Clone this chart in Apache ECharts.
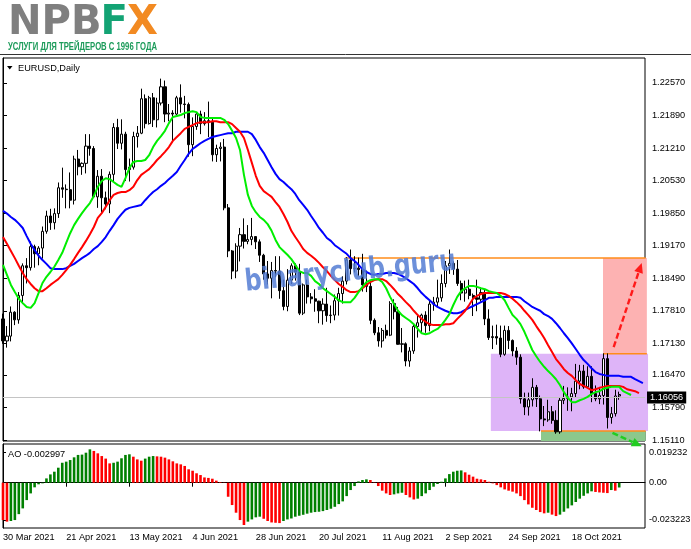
<!DOCTYPE html>
<html>
<head>
<meta charset="utf-8">
<title>EURUSD Daily</title>
<script src="https://cdn.jsdelivr.net/npm/echarts@6.0.0/dist/echarts.min.js"></script>
<style>
html,body{margin:0;padding:0;background:#ffffff;}
#chart{width:691px;height:549px;}
</style>
</head>
<body>
<div id="chart"></div>
<script>
// ---------------- data ----------------
const symbolTitle = 'EURUSD,Daily';
const aoTitle = 'AO -0.002997';
const brandParts = ['NPB', 'F', 'X'];
const brandSlogan = 'УСЛУГИ ДЛЯ ТРЕЙДЕРОВ С 1996 ГОДА';
const watermarkText = 'binaryclub.guru';
const firstTradingDay = [2021, 2, 30];
const monthNames = ['Jan','Feb','Mar','Apr','May','Jun','Jul','Aug','Sep','Oct','Nov','Dec'];
const dateTickLabels = ['30 Mar 2021','21 Apr 2021','13 May 2021','4 Jun 2021','28 Jun 2021','20 Jul 2021','11 Aug 2021','2 Sep 2021','24 Sep 2021','18 Oct 2021'];
const priceTickLabels = ['1.22570','1.21890','1.21210','1.20530','1.19850','1.19170','1.18490','1.17810','1.17130','1.16470','1.15790','1.15110'];
const aoTickLabels = ['0.019232','0.00','-0.023223'];
const currentPrice = 1.16056;

// [open, close, low, high]
const candles = [
[1.1764,1.1718,1.1712,1.1775],[1.1718,1.1728,1.1704,1.1749],[1.1728,1.1778,1.1717,1.1790],[1.1778,1.1762,1.1751,1.1780],
[1.1762,1.1813,1.1754,1.1820],[1.1813,1.1875,1.1795,1.1880],[1.1875,1.1871,1.1838,1.1891],[1.1871,1.1915,1.1865,1.1926],
[1.1915,1.1900,1.1871,1.1919],[1.1900,1.1912,1.1876,1.1916],[1.1912,1.1947,1.1890,1.1957],[1.1947,1.1979,1.1942,1.1990],
[1.1979,1.1965,1.1950,1.1994],[1.1965,1.1984,1.1951,1.1995],[1.1984,1.2038,1.1975,1.2049],[1.2038,1.2035,1.2017,1.2080],
[1.2035,1.2034,1.1995,1.2045],[1.2034,1.2012,1.1995,1.2070],[1.2012,1.2098,1.2003,1.2105],[1.2098,1.2082,1.2064,1.2117],
[1.2082,1.2089,1.2065,1.2091],[1.2089,1.2125,1.2068,1.2150],[1.2125,1.2120,1.2105,1.2150],[1.2120,1.2019,1.2017,1.2125],
[1.2019,1.2062,1.1996,1.2075],[1.2062,1.2017,1.1986,1.2077],[1.2017,1.2004,1.1993,1.2030],[1.2004,1.2066,1.1985,1.2072],
[1.2066,1.2164,1.2052,1.2173],[1.2164,1.2131,1.2119,1.2182],[1.2131,1.2150,1.2118,1.2181],[1.2150,1.2076,1.2052,1.2155],
[1.2076,1.2081,1.2051,1.2099],[1.2081,1.2145,1.2076,1.2155],[1.2145,1.2152,1.2122,1.2167],[1.2152,1.2224,1.2150,1.2245],
[1.2224,1.2172,1.2162,1.2233],[1.2172,1.2226,1.2170,1.2230],[1.2226,1.2180,1.2165,1.2236],[1.2180,1.2215,1.2164,1.2226],
[1.2215,1.2249,1.2210,1.2266],[1.2249,1.2192,1.2175,1.2262],[1.2192,1.2194,1.2177,1.2213],[1.2194,1.2192,1.2133,1.2200],
[1.2192,1.2226,1.2190,1.2230],[1.2226,1.2213,1.2195,1.2254],[1.2213,1.2212,1.2183,1.2230],[1.2212,1.2128,1.2103,1.2216],
[1.2128,1.2166,1.2104,1.2185],[1.2166,1.2192,1.2159,1.2196],[1.2192,1.2172,1.2150,1.2199],[1.2172,1.2178,1.2168,1.2196],
[1.2178,1.2175,1.2144,1.2218],[1.2175,1.2107,1.2093,1.2182],[1.2107,1.2120,1.2092,1.2128],[1.2120,1.2123,1.2093,1.2133],
[1.2123,1.1996,1.1991,1.2140],[1.1996,1.1906,1.1893,1.2004],[1.1906,1.1864,1.1847,1.1908],[1.1864,1.1916,1.1849,1.1922],
[1.1916,1.1940,1.1884,1.1954],[1.1940,1.1926,1.1911,1.1974],[1.1926,1.1930,1.1920,1.1960],[1.1930,1.1936,1.1918,1.1975],
[1.1936,1.1925,1.1910,1.1937],[1.1925,1.1897,1.1883,1.1930],[1.1897,1.1858,1.1846,1.1900],[1.1858,1.1849,1.1836,1.1885],
[1.1849,1.1865,1.1807,1.1883],[1.1865,1.1864,1.1851,1.1895],[1.1864,1.1823,1.1806,1.1895],[1.1823,1.1790,1.1782,1.1846],
[1.1790,1.1845,1.1780,1.1868],[1.1845,1.1875,1.1837,1.1880],[1.1875,1.1862,1.1844,1.1880],[1.1862,1.1776,1.1772,1.1879],
[1.1776,1.1835,1.1772,1.1838],[1.1835,1.1810,1.1796,1.1846],[1.1810,1.1806,1.1796,1.1818],[1.1806,1.1801,1.1779,1.1826],
[1.1801,1.1781,1.1755,1.1802],[1.1781,1.1795,1.1752,1.1807],[1.1795,1.1771,1.1758,1.1829],[1.1771,1.1772,1.1755,1.1792],
[1.1772,1.1802,1.1761,1.1815],[1.1802,1.1817,1.1771,1.1829],[1.1817,1.1843,1.1796,1.1853],[1.1843,1.1887,1.1836,1.1893],
[1.1887,1.1869,1.1857,1.1909],[1.1869,1.1870,1.1861,1.1895],[1.1870,1.1867,1.1853,1.1892],[1.1867,1.1835,1.1821,1.1900],
[1.1835,1.1832,1.1820,1.1865],[1.1832,1.1761,1.1753,1.1843],[1.1761,1.1735,1.1730,1.1765],[1.1735,1.1718,1.1706,1.1747],
[1.1718,1.1740,1.1704,1.1745],[1.1740,1.1730,1.1723,1.1752],[1.1730,1.1796,1.1728,1.1801],[1.1796,1.1779,1.1763,1.1805],
[1.1779,1.1711,1.1710,1.1789],[1.1711,1.1712,1.1694,1.1745],[1.1712,1.1676,1.1665,1.1715],[1.1676,1.1697,1.1664,1.1705],
[1.1697,1.1748,1.1691,1.1752],[1.1748,1.1756,1.1725,1.1770],[1.1756,1.1772,1.1735,1.1775],[1.1772,1.1750,1.1735,1.1780],
[1.1750,1.1795,1.1738,1.1802],[1.1795,1.1799,1.1781,1.1810],[1.1799,1.1808,1.1790,1.1846],[1.1808,1.1838,1.1800,1.1857],
[1.1838,1.1875,1.1830,1.1885],[1.1875,1.1880,1.1858,1.1909],[1.1880,1.1868,1.1856,1.1884],[1.1868,1.1838,1.1833,1.1887],
[1.1838,1.1818,1.1803,1.1844],[1.1818,1.1826,1.1800,1.1844],[1.1826,1.1813,1.1805,1.1846],[1.1813,1.1808,1.1770,1.1817],
[1.1808,1.1805,1.1780,1.1846],[1.1805,1.1819,1.1800,1.1830],[1.1819,1.1764,1.1751,1.1825],[1.1764,1.1725,1.1720,1.1784],
[1.1725,1.1727,1.1701,1.1750],[1.1727,1.1724,1.1710,1.1752],[1.1724,1.1690,1.1684,1.1750],[1.1690,1.1740,1.1687,1.1750],
[1.1740,1.1719,1.1701,1.1749],[1.1719,1.1697,1.1686,1.1721],[1.1697,1.1684,1.1668,1.1705],[1.1684,1.1597,1.1587,1.1690],
[1.1597,1.1580,1.1563,1.1610],[1.1580,1.1595,1.1562,1.1610],[1.1595,1.1621,1.1581,1.1640],[1.1621,1.1597,1.1580,1.1626],
[1.1597,1.1555,1.1529,1.1604],[1.1555,1.1553,1.1540,1.1582],[1.1553,1.1570,1.1549,1.1595],[1.1570,1.1552,1.1545,1.1582],
[1.1552,1.1528,1.1524,1.1573],[1.1528,1.1594,1.1524,1.1599],[1.1594,1.1598,1.1586,1.1624],[1.1598,1.1601,1.1572,1.1621],
[1.1601,1.1608,1.1571,1.1620],[1.1608,1.1634,1.1600,1.1670],[1.1634,1.1655,1.1617,1.1668],[1.1655,1.1622,1.1618,1.1668],
[1.1622,1.1644,1.1619,1.1665],[1.1644,1.1608,1.1590,1.1665],[1.1608,1.1597,1.1592,1.1625],[1.1597,1.1604,1.1586,1.1619],
[1.1604,1.1681,1.1585,1.1692],[1.1681,1.1558,1.1535,1.1692],[1.1558,1.1566,1.1545,1.1580],[1.1566,1.1603,1.1560,1.1616],
[1.1603,1.1606,1.1595,1.1612]
];

// Alligator lines (values per bar position, shifted lines run past the last bar)
const jawLine = [
1.1990,1.1984,1.1977,1.1971,1.1963,1.1954,1.1937,1.1921,1.1908,1.1896,
1.1887,1.1879,1.1870,1.1868,1.1868,1.1868,1.1870,1.1875,1.1879,1.1885,
1.1891,1.1896,1.1902,1.1910,1.1916,1.1925,1.1935,1.1948,1.1960,1.1973,
1.1983,1.1992,1.1996,1.1998,1.2000,1.2002,1.2012,1.2021,1.2029,1.2035,
1.2042,1.2048,1.2056,1.2063,1.2071,1.2084,1.2096,1.2109,1.2119,1.2125,
1.2131,1.2136,1.2140,1.2144,1.2146,1.2148,1.2150,1.2152,1.2152,1.2155,
1.2155,1.2155,1.2155,1.2150,1.2138,1.2123,1.2111,1.2096,1.2081,1.2067,
1.2056,1.2050,1.2042,1.2035,1.2025,1.2012,1.2002,1.1992,1.1979,1.1967,
1.1954,1.1944,1.1933,1.1927,1.1918,1.1912,1.1906,1.1900,1.1891,1.1885,
1.1877,1.1868,1.1862,1.1858,1.1856,1.1858,1.1858,1.1860,1.1860,1.1860,
1.1858,1.1854,1.1849,1.1843,1.1837,1.1828,1.1818,1.1810,1.1803,1.1795,
1.1789,1.1785,1.1781,1.1778,1.1776,1.1776,1.1778,1.1783,1.1787,1.1791,
1.1795,1.1799,1.1803,1.1808,1.1808,1.1810,1.1810,1.1810,1.1810,1.1810,
1.1810,1.1808,1.1801,1.1795,1.1789,1.1785,1.1781,1.1774,1.1770,1.1764,
1.1755,1.1745,1.1734,1.1724,1.1713,1.1701,1.1689,1.1678,1.1670,1.1661,
1.1653,1.1649,1.1647,1.1645,1.1645,1.1645,1.1645,1.1643,1.1643,1.1643,
1.1638,1.1634,1.1630
];
const teethLine = [
1.1935,1.1921,1.1906,1.1891,1.1875,1.1860,1.1847,1.1837,1.1828,1.1822,
1.1822,1.1828,1.1835,1.1841,1.1847,1.1856,1.1866,1.1877,1.1889,1.1902,
1.1914,1.1927,1.1941,1.1956,1.1975,1.1985,1.1998,1.2012,1.2023,1.2027,
1.2029,1.2029,1.2033,1.2040,1.2054,1.2065,1.2071,1.2077,1.2086,1.2096,
1.2104,1.2113,1.2123,1.2136,1.2144,1.2152,1.2161,1.2165,1.2169,1.2173,
1.2175,1.2175,1.2175,1.2177,1.2177,1.2175,1.2175,1.2175,1.2171,1.2163,
1.2155,1.2142,1.2117,1.2090,1.2063,1.2042,1.2031,1.2025,1.2019,1.2008,
1.1998,1.1983,1.1967,1.1948,1.1935,1.1923,1.1910,1.1902,1.1896,1.1889,
1.1881,1.1872,1.1864,1.1854,1.1845,1.1837,1.1831,1.1824,1.1820,1.1820,
1.1822,1.1828,1.1835,1.1841,1.1845,1.1847,1.1847,1.1843,1.1835,1.1826,
1.1816,1.1808,1.1799,1.1791,1.1781,1.1772,1.1764,1.1758,1.1753,1.1751,
1.1751,1.1751,1.1753,1.1753,1.1755,1.1764,1.1772,1.1781,1.1793,1.1806,
1.1812,1.1816,1.1818,1.1818,1.1818,1.1818,1.1818,1.1816,1.1812,1.1806,
1.1799,1.1791,1.1781,1.1772,1.1762,1.1749,1.1737,1.1724,1.1709,1.1695,
1.1680,1.1670,1.1659,1.1651,1.1645,1.1636,1.1628,1.1624,1.1620,1.1615,
1.1617,1.1620,1.1622,1.1624,1.1624,1.1624,1.1624,1.1622,1.1617,1.1615,
1.1613,1.1609
];
const lipsLine = [
1.1877,1.1856,1.1835,1.1820,1.1806,1.1797,1.1789,1.1787,1.1797,1.1818,
1.1839,1.1852,1.1862,1.1873,1.1887,1.1902,1.1923,1.1943,1.1960,1.1973,
1.1985,1.1996,1.2006,1.2021,1.2040,1.2052,1.2058,1.2056,1.2050,1.2044,
1.2040,1.2058,1.2079,1.2092,1.2094,1.2094,1.2096,1.2106,1.2123,1.2136,
1.2146,1.2157,1.2173,1.2186,1.2188,1.2190,1.2194,1.2196,1.2198,1.2196,
1.2186,1.2184,1.2184,1.2184,1.2184,1.2184,1.2180,1.2171,1.2157,1.2142,
1.2117,1.2065,1.2023,1.2000,1.1987,1.1977,1.1971,1.1962,1.1948,1.1929,
1.1914,1.1906,1.1898,1.1889,1.1877,1.1864,1.1860,1.1860,1.1854,1.1843,
1.1837,1.1828,1.1822,1.1816,1.1810,1.1803,1.1799,1.1799,1.1799,1.1808,
1.1820,1.1831,1.1841,1.1845,1.1847,1.1847,1.1841,1.1828,1.1810,1.1795,
1.1781,1.1772,1.1766,1.1760,1.1753,1.1743,1.1734,1.1732,1.1734,1.1739,
1.1743,1.1751,1.1762,1.1774,1.1793,1.1810,1.1822,1.1828,1.1833,1.1833,
1.1831,1.1828,1.1826,1.1822,1.1820,1.1818,1.1812,1.1803,1.1787,1.1772,
1.1764,1.1753,1.1737,1.1718,1.1699,1.1686,1.1674,1.1664,1.1655,1.1647,
1.1638,1.1626,1.1611,1.1599,1.1590,1.1590,1.1594,1.1597,1.1601,1.1607,
1.1611,1.1613,1.1618,1.1620,1.1622,1.1622,1.1622,1.1613,1.1609,1.1605
];

// Awesome Oscillator
const aoValues = [
-0.0234,-0.0244,-0.0240,-0.0234,-0.0197,-0.0161,-0.0109,-0.0067,-0.0029,-0.0010,
-0.0004,0.0027,0.0052,0.0069,0.0094,0.0125,0.0132,0.0142,0.0159,0.0174,
0.0176,0.0188,0.0209,0.0199,0.0184,0.0167,0.0151,0.0121,0.0125,0.0132,
0.0153,0.0174,0.0178,0.0163,0.0146,0.0138,0.0151,0.0163,0.0167,0.0165,
0.0163,0.0157,0.0146,0.0134,0.0121,0.0115,0.0105,0.0084,0.0075,0.0059,
0.0048,0.0033,0.0030,0.0025,0.0013,0.0004,-0.0002,-0.0088,-0.0140,-0.0188,
-0.0234,-0.0265,-0.0244,-0.0230,-0.0217,-0.0213,-0.0226,-0.0240,-0.0249,-0.0251,
-0.0253,-0.0240,-0.0230,-0.0224,-0.0213,-0.0207,-0.0201,-0.0194,-0.0188,-0.0184,
-0.0182,-0.0178,-0.0171,-0.0163,-0.0151,-0.0134,-0.0117,-0.0084,-0.0046,-0.0021,
0.0008,0.0017,0.0021,0.0017,0.0002,-0.0021,-0.0050,-0.0067,-0.0077,-0.0073,
-0.0067,-0.0063,-0.0077,-0.0092,-0.0105,-0.0100,-0.0084,-0.0067,-0.0046,-0.0025,
-0.0008,0.0006,0.0027,0.0054,0.0069,0.0075,0.0077,0.0065,0.0050,0.0038,
0.0025,0.0021,0.0017,0.0006,-0.0004,-0.0015,-0.0029,-0.0042,-0.0050,-0.0056,
-0.0067,-0.0084,-0.0109,-0.0136,-0.0157,-0.0171,-0.0184,-0.0192,-0.0188,-0.0200,
-0.0209,-0.0200,-0.0182,-0.0161,-0.0142,-0.0121,-0.0100,-0.0082,-0.0067,-0.0054,
-0.0058,-0.0061,-0.0063,-0.0065,-0.0046,-0.0050,-0.002997
];

// annotations in chart units: [fromBar, toBar, topPrice, bottomPrice]
const zoneBoxes = [[123.5, 163.3, 1.1691, 1.1530], [151.9, 163.0, 1.1891, 1.1691], [136.2, 162.7, 1.1530, 1.1509]];
// [fromBar, toBar, price]
const levelLines = [[86.6, 162.7, 1.1891], [151.9, 163.0, 1.1691], [136.2, 162.7, 1.1530]];
// [fromBar, fromPrice, toBar, toPrice]
const arrowPaths = [[154.6, 1.1705, 161.7, 1.1881], [154.3, 1.1526, 161.7, 1.1498]];

// ---------------- styles ----------------
const zoneFills = ['#deb4f8', '#fdb2b2', '#8cc88c'];
const arrowColors = ['#ff1a1a', '#22cc22'];
const levelColor = '#ff8c1a';
const lineColors = { jaw: '#0000ff', teeth: '#ff0000', lips: '#00ee00' };
const aoUp = '#008000', aoDown = '#ff0000';
const baseFont = 'Liberation Sans';

// ---------------- derived ----------------
const tradingDays = [];
for (let d = new Date(Date.UTC(firstTradingDay[0], firstTradingDay[1], firstTradingDay[2])); tradingDays.length < candles.length; d.setUTCDate(d.getUTCDate() + 1)) {
  const wd = d.getUTCDay();
  if (wd === 0 || wd === 6) continue;
  tradingDays.push(d.getUTCDate() + ' ' + monthNames[d.getUTCMonth()] + ' ' + d.getUTCFullYear());
}
const dateTickIdx = dateTickLabels.map(s => tradingDays.indexOf(s)).filter(i => i >= 0);
const priceTickValues = priceTickLabels.map(Number);
const aoTickValues = aoTickLabels.map(Number);
const pickLabel = (vals, labels, v) => { const k = vals.findIndex(t => Math.abs(t - v) < 1e-7); return k >= 0 ? labels[k] : ''; };

const mctx = document.createElement('canvas').getContext('2d');
const measure = (str, font) => { mctx.font = font; return mctx.measureText(str).width; };

const chart = echarts.init(document.getElementById('chart'), null, { renderer: 'canvas', width: 691, height: 549 });

const xMax = 162.53;
const logoFont = 'bold 41px "DejaVu Sans"';
const wN = measure(brandParts[0], logoFont);
const wF = measure(brandParts[1], logoFont);
const wX = measure(brandParts[2], logoFont);
const logoScale = 150 / (wN + wF + wX - 2);
const sloganFont = 'bold 10px "Liberation Sans"';
const sloganScale = 149 / measure(brandSlogan, sloganFont);
const wmFont = 'bold 30px "DejaVu Sans"';
const wmScale = 212 / measure(watermarkText, wmFont);

const option = {
  animation: false,
  backgroundColor: '#ffffff',
  grid: [
    { left: 3, right: 46, top: 58, height: 383, show: true, borderColor: '#000', borderWidth: 1, backgroundColor: 'rgba(0,0,0,0)', outerBoundsMode: 'none', containLabel: false },
    { left: 3, right: 46, top: 444, height: 84, show: true, borderColor: '#000', borderWidth: 1, backgroundColor: 'rgba(0,0,0,0)', outerBoundsMode: 'none', containLabel: false }
  ],
  xAxis: [
    { gridIndex: 0, type: 'value', min: 0, max: xMax, show: false },
    { gridIndex: 1, type: 'value', min: 0, max: xMax,
      axisLine: { show: true, lineStyle: { color: '#000' } },
      axisTick: { show: true, length: 4, customValues: dateTickIdx, lineStyle: { color: '#000' } },
      axisLabel: { show: true, customValues: dateTickIdx, formatter: v => tradingDays[Math.round(v)] || '', align: 'left', margin: 5, color: '#000', fontSize: 9.2, fontFamily: baseFont },
      splitLine: { show: false } }
  ],
  yAxis: [
    { gridIndex: 0, type: 'value', position: 'right', min: 1.15089, max: 1.23091, scale: true,
      axisLine: { show: true, lineStyle: { color: '#000' } },
      axisTick: { show: true, length: 4, customValues: priceTickValues, lineStyle: { color: '#000' } },
      axisLabel: { show: true, customValues: priceTickValues, formatter: v => pickLabel(priceTickValues, priceTickLabels, v), margin: 7, color: '#000', fontSize: 9.2, fontFamily: baseFont },
      splitLine: { show: false } },
    { gridIndex: 1, type: 'value', position: 'right', min: -0.02838, max: 0.02425,
      axisLine: { show: true, lineStyle: { color: '#000' } },
      axisTick: { show: true, length: 3, customValues: aoTickValues, lineStyle: { color: '#000' } },
      axisLabel: { show: true, customValues: aoTickValues, formatter: v => pickLabel(aoTickValues, aoTickLabels, v), margin: 4, color: '#000', fontSize: 9.2, fontFamily: baseFont },
      splitLine: { show: false } }
  ],
  series: [
    { type: 'custom', name: 'zones', xAxisIndex: 0, yAxisIndex: 0, z: 1, silent: true, clip: false,
      data: zoneBoxes, encode: { x: [0, 1], y: [2, 3] },
      renderItem: (params, api) => {
        const p0 = api.coord([api.value(0), api.value(2)]);
        const p1 = api.coord([api.value(1), api.value(3)]);
        return { type: 'rect', shape: { x: p0[0], y: p0[1], width: p1[0] - p0[0], height: p1[1] - p0[1] }, style: { fill: zoneFills[params.dataIndex] } };
      } },
    { type: 'custom', name: 'levels', xAxisIndex: 0, yAxisIndex: 0, z: 2, silent: true, clip: false,
      data: levelLines, encode: { x: [0, 1], y: 2 },
      renderItem: (params, api) => {
        const p0 = api.coord([api.value(0), api.value(2)]);
        const p1 = api.coord([api.value(1), api.value(2)]);
        return { type: 'line', shape: { x1: p0[0], y1: p0[1], x2: p1[0], y2: p1[1] }, style: { stroke: levelColor, lineWidth: 1.5 } };
      } },
    { type: 'candlestick', name: symbolTitle, xAxisIndex: 0, yAxisIndex: 0, z: 3, silent: true,
      data: candles.map((c, i) => [i, c[0], c[1], c[2], c[3]]),
      encode: { x: 0, y: [1, 2, 3, 4] },
      barWidth: 2.6,
      itemStyle: { color: '#ffffff', color0: '#000000', borderColor: '#000000', borderColor0: '#000000', borderWidth: 1 },
      markLine: { silent: true, symbol: 'none', animation: false,
        lineStyle: { color: '#c4c4c4', width: 1, type: 'solid' },
        label: { show: true, position: 'end', distance: 2, formatter: currentPrice.toFixed(5), backgroundColor: '#000', color: '#fff', padding: [2, 3, 1, 3], fontSize: 9.2, fontFamily: baseFont },
        data: [{ yAxis: currentPrice }] } },
    { type: 'line', name: 'Jaw', xAxisIndex: 0, yAxisIndex: 0, z: 4, silent: true, showSymbol: false, symbol: 'none',
      data: jawLine.map((v, i) => [i, v]), lineStyle: { color: lineColors.jaw, width: 2 } },
    { type: 'line', name: 'Teeth', xAxisIndex: 0, yAxisIndex: 0, z: 5, silent: true, showSymbol: false, symbol: 'none',
      data: teethLine.map((v, i) => [i, v]), lineStyle: { color: lineColors.teeth, width: 2 } },
    { type: 'line', name: 'Lips', xAxisIndex: 0, yAxisIndex: 0, z: 6, silent: true, showSymbol: false, symbol: 'none',
      data: lipsLine.map((v, i) => [i, v]), lineStyle: { color: lineColors.lips, width: 2 } },
    { type: 'custom', name: 'arrows', xAxisIndex: 0, yAxisIndex: 0, z: 8, silent: true, clip: false,
      data: arrowPaths, encode: { x: [0, 2], y: [1, 3] },
      renderItem: (params, api) => {
        const a = api.coord([api.value(0), api.value(1)]);
        const b = api.coord([api.value(2), api.value(3)]);
        const col = arrowColors[params.dataIndex];
        const dx = b[0] - a[0], dy = b[1] - a[1], len = Math.hypot(dx, dy) || 1;
        const ux = dx / len, uy = dy / len, head = 10, hw = 4.5;
        const base = [b[0] - ux * head, b[1] - uy * head];
        return { type: 'group', children: [
          { type: 'line', shape: { x1: a[0], y1: a[1], x2: base[0], y2: base[1] }, style: { stroke: col, lineWidth: 2.4, lineDash: [6, 3] } },
          { type: 'polygon', shape: { points: [b, [base[0] - uy * hw, base[1] + ux * hw], [base[0] + uy * hw, base[1] - ux * hw]] }, style: { fill: col } }
        ] };
      } },
    { type: 'bar', name: 'AO', xAxisIndex: 1, yAxisIndex: 1, z: 3, silent: true, barWidth: 2.6,
      data: aoValues.map((v, i) => ({ value: [i, v], itemStyle: { color: (i > 0 && v > aoValues[i - 1]) ? aoUp : aoDown } })) }
  ],
  graphic: [
    { type: 'line', z: 50, silent: true, shape: { x1: 0, y1: 54.5, x2: 691, y2: 54.5 }, style: { stroke: '#333', lineWidth: 1 } },
    { type: 'group', z: 50, silent: true, x: 8, y: 23, scaleX: logoScale, children: [
      { type: 'text', z: 50, x: 0, y: 0, style: { text: brandParts[0], font: logoFont, fill: '#7f7f7f', textAlign: 'left', textVerticalAlign: 'middle' } },
      { type: 'text', z: 50, x: wN - 1, y: 0, style: { text: brandParts[1], font: logoFont, fill: '#13a374', textAlign: 'left', textVerticalAlign: 'middle' } },
      { type: 'text', z: 50, x: wN + wF - 2, y: 0, style: { text: brandParts[2], font: logoFont, fill: '#f28a22', textAlign: 'left', textVerticalAlign: 'middle' } }
    ] },
    { type: 'text', z: 50, silent: true, x: 8, y: 47, scaleX: sloganScale, style: { text: brandSlogan, font: sloganFont, fill: '#1c9b5a', textAlign: 'left', textVerticalAlign: 'middle' } },
    { type: 'polygon', z: 50, silent: true, shape: { points: [[7, 66], [12.5, 66], [9.75, 69.5]] }, style: { fill: '#000' } },
    { type: 'text', z: 50, silent: true, x: 18, y: 68, style: { text: symbolTitle, font: '9.2px "Liberation Sans"', fill: '#000', textAlign: 'left', textVerticalAlign: 'middle' } },
    { type: 'text', z: 50, silent: true, x: 8, y: 454, style: { text: aoTitle, font: '9.2px "Liberation Sans"', fill: '#000', textAlign: 'left', textVerticalAlign: 'middle' } },
    { type: 'text', z: 60, silent: true, x: 245, y: 283, rotation: 0.1, scaleX: wmScale, style: { text: watermarkText, font: wmFont, fill: 'rgba(84,124,212,0.85)', textAlign: 'left', textVerticalAlign: 'middle' } }
  ]
};
chart.setOption(option);
</script>
</body>
</html>
